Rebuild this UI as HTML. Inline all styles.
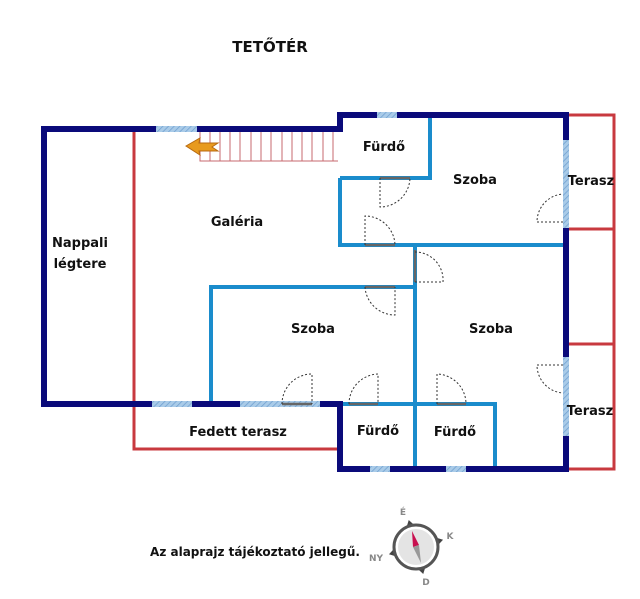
<!DOCTYPE html>
<html><head><meta charset="utf-8"><style>
html,body{margin:0;padding:0;background:#fff;}
svg{display:block;}
text{font-family:"DejaVu Sans","Liberation Sans",sans-serif;font-weight:bold;fill:#111;}
</style></head><body>
<svg width="640" height="599" viewBox="0 0 640 599" xmlns="http://www.w3.org/2000/svg">
<defs>
<pattern id="h" width="4" height="4" patternUnits="userSpaceOnUse" patternTransform="rotate(45)">
<rect width="4" height="4" fill="#a9cbe8"/><line x1="0" y1="0" x2="0" y2="4" stroke="#6f9fd0" stroke-width="1.5"/>
</pattern>
</defs>
<text x="270" y="52" font-size="15" text-anchor="middle">TETŐTÉR</text>

<g stroke="#c8393f" stroke-width="3" fill="none">
<polyline points="134,129 134,449 340,449"/>
<polyline points="566,115 614,115 614,469 566,469"/>
<line x1="566" y1="229" x2="614" y2="229"/>
<line x1="566" y1="344" x2="614" y2="344"/>
</g>
<g stroke="#c76a6f" stroke-width="1" fill="none">
<polyline points="200,129 200,161 338,161"/>
<path d="M210,131V161M220,131V161M230,131V161M240,131V161M251,131V161M261,131V161M271,131V161M282,131V161M292,131V161M302,131V161M312,131V161M323,131V161M333,131V161"/>
</g>
<polygon points="186,146 200,138 199,143 218,143 212,147 218,151 199,151 200,155" fill="#e89a1e" stroke="#b86a10" stroke-width="1"/>

<g stroke="#1a8ccc" stroke-width="4" fill="none">
<polyline points="340,178 430,178 430,115"/>
<polyline points="340,178 340,245 564,245"/>
<line x1="415" y1="245" x2="415" y2="469"/>
<polyline points="211,404 211,287 415,287"/>
<polyline points="340,404 495,404 495,469"/>
</g>

<g stroke="#0a0a7a" stroke-width="6" fill="none" stroke-linecap="square">
<polyline points="340,129 44,129 44,404 340,404"/>
<polyline points="340,129 340,115 566,115 566,469 340,469 340,404"/>
</g>
<g fill="url(#h)">
<rect x="156" y="126" width="41" height="6"/>
<rect x="377" y="112" width="20" height="6"/>
<rect x="563" y="140" width="6" height="88"/>
<rect x="563" y="357" width="6" height="79"/>
<rect x="152" y="401" width="40" height="6"/>
<rect x="240" y="401" width="80" height="6"/>
<rect x="370" y="466" width="20" height="6"/>
<rect x="446" y="466" width="20" height="6"/>
</g>

<g stroke="#666" stroke-width="2.5">
<line x1="380" y1="178" x2="410" y2="178"/>
<line x1="365" y1="245" x2="395" y2="245"/>
<line x1="415" y1="250" x2="415" y2="282"/>
<line x1="365" y1="287" x2="395" y2="287"/>
<line x1="282" y1="404" x2="312" y2="404"/>
<line x1="349" y1="404" x2="378" y2="404"/>
<line x1="437" y1="404" x2="466" y2="404"/>
</g>
<g stroke="#333" stroke-width="1" stroke-dasharray="2,2" fill="none">
<path d="M380,178V207A30,30 0 0 0 410,178"/>
<path d="M365,245V216A30,30 0 0 1 395,245"/>
<path d="M415,282H443A28,28 0 0 0 415,252"/>
<path d="M365,287A30,30 0 0 0 395,315V287"/>
<path d="M282,404A30,30 0 0 1 312,374V404"/>
<path d="M349,404A30,30 0 0 1 378,374V404"/>
<path d="M437,404V374A30,30 0 0 1 466,404"/>
<path d="M563,222H537A28,28 0 0 1 563,194"/>
<path d="M563,365H537A28,28 0 0 0 563,393"/>
</g>

<g font-size="13" text-anchor="middle">
<text x="384" y="151">Fürdő</text>
<text x="475" y="184">Szoba</text>
<text x="591" y="185">Terasz</text>
<text x="237" y="226">Galéria</text>
<text x="80" y="247">Nappali</text>
<text x="80" y="268">légtere</text>
<text x="313" y="333">Szoba</text>
<text x="491" y="333">Szoba</text>
<text x="590" y="415">Terasz</text>
<text x="238" y="436">Fedett terasz</text>
<text x="378" y="435">Fürdő</text>
<text x="455" y="436">Fürdő</text>
<text x="255" y="556" font-size="12">Az alaprajz tájékoztató jellegű.</text>
</g>

<g transform="translate(416,547)">
<polygon points="0,-28 5,-20 -5,-20" fill="#444" transform="rotate(-15)"/>
<polygon points="0,-28 5,-20 -5,-20" fill="#444" transform="rotate(75)"/>
<polygon points="0,-28 5,-20 -5,-20" fill="#444" transform="rotate(165)"/>
<polygon points="0,-28 5,-20 -5,-20" fill="#444" transform="rotate(255)"/>
<circle r="22" fill="#fff" stroke="#555" stroke-width="3"/>
<circle r="18" fill="#e4e4e4"/>
<polygon points="-4,-16 3,-2 -3,0" fill="#c8104f"/>
<polygon points="-3,0 3,-2 5,16" fill="#999"/>
<g font-size="9" text-anchor="middle">
<text x="-13" y="-32" style="fill:#888">É</text>
<text x="34" y="-8" style="fill:#888">K</text>
<text x="10" y="38" style="fill:#888">D</text>
<text x="-40" y="14" style="fill:#888">NY</text>
</g>
</g>
</svg>
</body></html>
